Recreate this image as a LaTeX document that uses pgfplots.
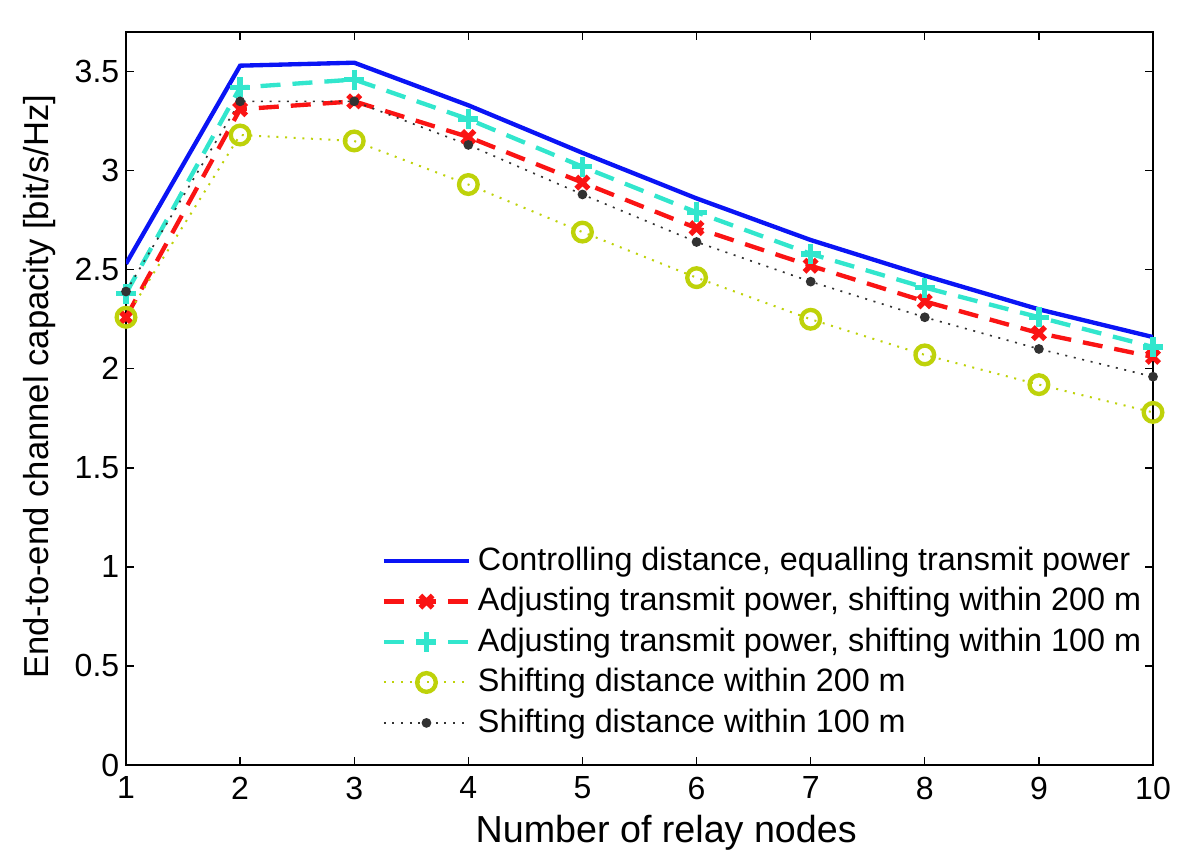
\documentclass[border=0pt]{standalone}
\usepackage{fontspec}
\setmainfont{Liberation Sans}
\usepackage{pgfplots}
\pgfplotsset{compat=1.18}
\definecolor{cblue}{RGB}{10,20,245}
\definecolor{cred}{RGB}{250,20,20}
\definecolor{ccyan}{RGB}{50,230,205}
\definecolor{cyg}{RGB}{190,210,10}
\definecolor{cdark}{RGB}{50,50,50}
\begin{document}
\begin{tikzpicture}
\begin{axis}[
  scale only axis,
  width=308.1pt, height=219.9pt,
  xmin=1, xmax=10, ymin=0, ymax=3.7,
  xtick={1,...,10},
  ytick={0,0.5,1,1.5,2,2.5,3,3.5},
  yticklabels={0,0.5,1,1.5,2,2.5,3,3.5},
  tick align=inside,
  major tick length=2.5pt,
  tick style={black, line width=0.4pt},
  axis line style={line width=0.5pt},
  /pgf/number format/assume math mode=true,
  tick label style={font=\fontsize{9.6}{10}\selectfont},
  yticklabel style={xshift=1.5pt},
  xlabel={Number of relay nodes},
  ylabel={End-to-end channel capacity [bit/s/Hz]},
  xlabel style={at={(axis description cs:0.526,-0.093)}, anchor=center, font=\fontsize{11.3}{13}\selectfont},
  ylabel style={at={(axis description cs:-0.084,0.516)}, anchor=center, font=\fontsize{10.4}{12}\selectfont},
  legend cell align=left,
  legend style={draw=none, fill=none, at={(0.245,0.312)}, anchor=north west,
    font=\fontsize{9.7}{11}\selectfont, row sep=-0.4pt, inner sep=1pt},
  legend image code/.code={
    \draw[mark repeat=2,mark phase=2,#1] plot coordinates {(0cm,0cm) (0.45cm,0cm) (0.9cm,0cm)};
  },
]
\addplot[cblue, line width=1.3pt] coordinates {
(1,2.53) (2,3.53) (3,3.545) (4,3.33) (5,3.09) (6,2.86) (7,2.65) (8,2.47) (9,2.30) (10,2.16)};
\addlegendentry{Controlling distance, equalling transmit power}
\addplot[cred, line width=1.3pt, dash pattern=on 6pt off 3.6pt, mark=x, mark size=2.6pt,
  mark options={solid, line width=1.6pt}] coordinates {
(1,2.26) (2,3.31) (3,3.35) (4,3.17) (5,2.94) (6,2.71) (7,2.52) (8,2.34) (9,2.18) (10,2.06)};
\addlegendentry{Adjusting transmit power, shifting within 200 m}
\addplot[ccyan, line width=1.3pt, dash pattern=on 6pt off 3.6pt, mark=+, mark size=3pt,
  mark options={solid, line width=1.6pt}] coordinates {
(1,2.38) (2,3.42) (3,3.46) (4,3.26) (5,3.02) (6,2.79) (7,2.58) (8,2.41) (9,2.26) (10,2.11)};
\addlegendentry{Adjusting transmit power, shifting within 100 m}
\addplot[cyg, line width=0.6pt, dash pattern=on 0.6pt off 2pt, mark=o, mark size=2.8pt,
  mark options={solid, line width=1.3pt}] coordinates {
(1,2.26) (2,3.18) (3,3.15) (4,2.93) (5,2.69) (6,2.46) (7,2.25) (8,2.07) (9,1.92) (10,1.78)};
\addlegendentry{Shifting distance within 200 m}
\addplot[cdark, line width=0.5pt, dash pattern=on 0.6pt off 2pt, mark=*, mark size=1.2pt,
  mark options={solid}] coordinates {
(1,2.39) (2,3.35) (3,3.35) (4,3.13) (5,2.88) (6,2.64) (7,2.44) (8,2.26) (9,2.10) (10,1.96)};
\addlegendentry{Shifting distance within 100 m}
\end{axis}
\pgfresetboundingbox
\path[use as bounding box] ([shift={(-37.8pt,-29.7pt)}]current axis.south west) rectangle ([shift={(14.1pt,9.6pt)}]current axis.north east);
\end{tikzpicture}
\end{document}
